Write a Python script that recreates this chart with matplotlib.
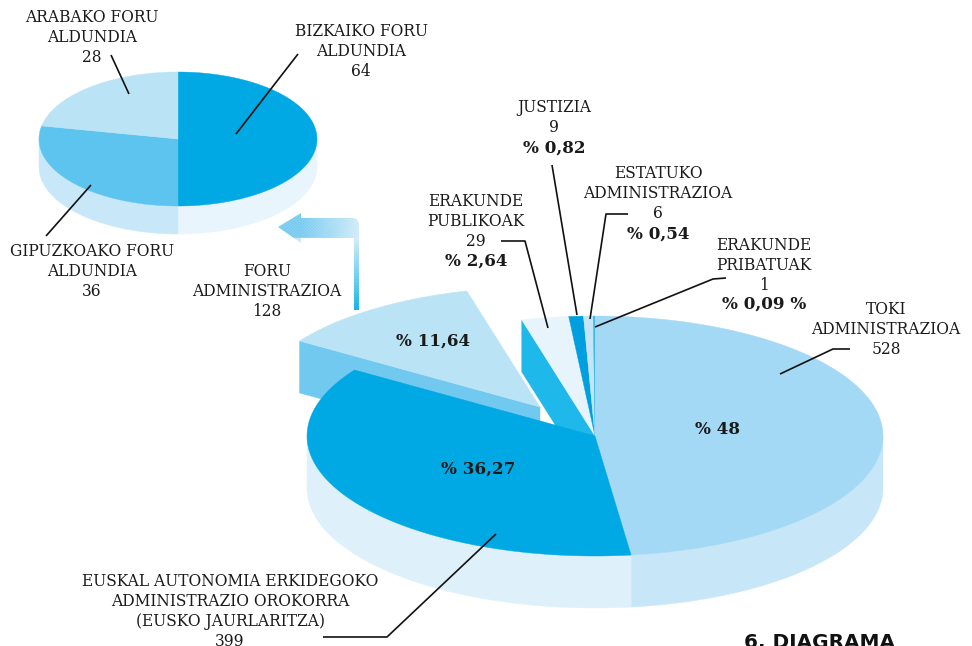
import numpy as np
import matplotlib
matplotlib.use("Agg")
import matplotlib.pyplot as plt
from matplotlib.patches import Polygon, PathPatch
from matplotlib.path import Path
from matplotlib.colors import to_rgb

# ---- data ----
main_names = ["TOKI", "EAE", "FORU", "PUBLIKOAK", "JUSTIZIA", "ESTATUKO", "PRIBATUAK"]
main_values = [528, 399, 128, 29, 9, 6, 1]
main_colors = ["#a3d9f5", "#00a8e4", "#bae3f6", "#e8f4fb", "#009fe0", "#c5e5f7", "#1cb5ea"]
foru_names = ["BIZKAIA", "GIPUZKOA", "ARABA"]
foru_values = [64, 36, 28]
foru_colors = ["#00a8e4", "#5cc4ee", "#bae3f6"]

FONT = "DejaVu Serif"
INK = "#1a1a1a"

fig = plt.figure(figsize=(9.72, 6.46), dpi=100, facecolor="white")
ax = fig.add_axes([0, 0, 1, 1])


def angles(values):
    edges = 360 * np.cumsum([0] + list(values)) / sum(values)
    return edges[:-1], edges[1:]


def arc(cx, cy, rx, ry, a0, a1, n=160):
    t = np.radians(np.linspace(a0, a1, n))
    return np.column_stack([cx + rx * np.sin(t), cy - ry * np.cos(t)])


def top(cx, cy, rx, ry, a0, a1, color, z):
    pts = np.vstack([[[cx, cy]], arc(cx, cy, rx, ry, a0, a1)])
    ax.add_patch(Polygon(pts, closed=True, fc=color, ec=color, lw=0.3, zorder=z))


def side(cx, cy, rx, ry, d, a0, a1, color, z):
    a = arc(cx, cy, rx, ry, a0, a1)
    b = a[::-1] + [0, d]
    ax.add_patch(Polygon(np.vstack([a, b]), closed=True, fc=color, ec=color, lw=0.3, zorder=z))


def cut(cx, cy, rx, ry, d, a, color, z):
    o = arc(cx, cy, rx, ry, a, a, 1)[0]
    pts = [[cx, cy], o, o + [0, d], [cx, cy + d]]
    ax.add_patch(Polygon(pts, closed=True, fc=color, ec=color, lw=0.3, zorder=z))


# ---- main pie ----
CX, CY, RX, RY, D = 595, 436, 288, 120, 52
DX, DY = -55, -29
st, en = angles(main_values)
side(CX, CY, RX, RY, D, 90, en[0], "#c7e7f8", 1)
side(CX, CY, RX, RY, D, st[1], 270, "#def1fb", 1)
cut(CX + DX, CY + DY, RX, RY, D, st[2], "#72c9f0", 1)
cut(CX, CY, RX, RY, D, st[3], "#1eb8ea", 1)
top(CX + DX, CY + DY, RX, RY, st[2], en[2], main_colors[2], 2)
for i in [3, 4, 5, 6, 0, 1]:
    top(CX, CY, RX, RY, st[i], en[i], main_colors[i], 3)

# ---- small pie ----
cx, cy, rx, ry, d = 178, 139, 139, 67, 28
s2, e2 = angles(foru_values)
side(cx, cy, rx, ry, d, 90, e2[0], "#e8f5fc", 1)
side(cx, cy, rx, ry, d, s2[1], 270, "#c8e8f9", 1)
for i in range(3):
    top(cx, cy, rx, ry, s2[i], e2[i], foru_colors[i], 3)

# ---- arrow with gradient ----
W, H = 81 * 4, 97 * 4
xs = np.linspace(278, 359, W)
ys = np.linspace(213, 310, H)
X, Y = np.meshgrid(xs, ys)
light, mid, strong = map(np.array, (to_rgb("#cdeaf9"), to_rgb("#6ec7ef"), to_rgb("#00ade8")))
th = np.clip((359 - X) / 58, 0, 1)[..., None]
tv = np.clip((Y - 238) / 72, 0, 1)[..., None]
horiz = light * (1 - th) + mid * th
vert = light * (1 - tv) + strong * tv
img = np.where((Y < 238)[..., None], horiz, vert)
stripes = (((X + Y) % 3.0) < 1.2)[..., None]
img = np.where(stripes, img * 0.72 + 0.28, img)
im = ax.imshow(img, extent=(278, 359, 310, 213), aspect="auto", zorder=2, interpolation="bilinear")
verts = [(278, 227), (301, 213), (301, 218), (352, 218), (359, 218), (359, 225),
         (359, 310), (354, 310), (354, 238), (301, 238), (301, 243), (278, 227)]
codes = [Path.MOVETO, Path.LINETO, Path.LINETO, Path.LINETO, Path.CURVE3, Path.CURVE3,
         Path.LINETO, Path.LINETO, Path.LINETO, Path.LINETO, Path.LINETO, Path.CLOSEPOLY]
clip = PathPatch(Path(verts, codes), transform=ax.transData, fc="none", ec="none")
ax.add_patch(clip)
im.set_clip_path(clip)

# ---- leader lines ----
leaders = [
    [(111, 55), (129, 94)],
    [(298, 54), (236, 134)],
    [(91, 185), (46, 236)],
    [(501, 241), (525, 241), (548, 328)],
    [(552, 165), (577, 315)],
    [(628, 214), (606, 214), (590, 319)],
    [(726, 278), (713, 279), (595, 327)],
    [(850, 349), (833, 349), (780, 374)],
    [(496, 534), (387, 637), (323, 637)],
]
for seg in leaders:
    p = np.array(seg)
    ax.plot(p[:, 0], p[:, 1], color="#111111", lw=1.2, zorder=5, solid_capstyle="butt")


# ---- text ----
def block(x, ys_, lines, size=11.2):
    for y, line in zip(ys_, lines):
        bold = line.startswith("%")
        ax.text(x, y, line, ha="center", va="center", family=FONT, color=INK,
                fontsize=12.1 if bold else size, fontweight="bold" if bold else "normal", zorder=6)


block(92, [17, 37, 57], ["ARABAKO FORU", "ALDUNDIA", "28"])
block(361, [32, 52, 72], ["BIZKAIKO FORU", "ALDUNDIA", "64"])
block(92, [251, 271, 291], ["GIPUZKOAKO FORU", "ALDUNDIA", "36"])
block(267, [271, 291, 311], ["FORU", "ADMINISTRAZIOA", "128"])
block(476, [201, 221, 241, 261], ["ERAKUNDE", "PUBLIKOAK", "29", "% 2,64"])
block(554, [107, 127, 148], ["JUSTIZIA", "9", "% 0,82"])
block(658, [174, 194, 214, 234], ["ESTATUKO", "ADMINISTRAZIOA", "6", "% 0,54"])
block(764, [245, 265, 285, 304], ["ERAKUNDE", "PRIBATUAK", "1", "% 0,09 %"])
block(886, [310, 330, 350], ["TOKI", "ADMINISTRAZIOA", "528"])
block(230, [581, 601, 621, 641], ["EUSKAL AUTONOMIA ERKIDEGOKO", "ADMINISTRAZIO OROKORRA",
                                  "(EUSKO JAURLARITZA)", "399"])
block(433, [341], ["% 11,64"])
block(478, [469], ["% 36,27"])
block(717, [429], ["% 48"])
ax.text(819, 648, "6. DIAGRAMA", ha="center", va="baseline", family="DejaVu Sans", fontweight="bold",
        fontsize=14.4, color="#111111", zorder=6)

ax.set_xlim(0, 972)
ax.set_ylim(646, 0)
ax.axis("off")
fig.savefig("out.png", dpi=100)
